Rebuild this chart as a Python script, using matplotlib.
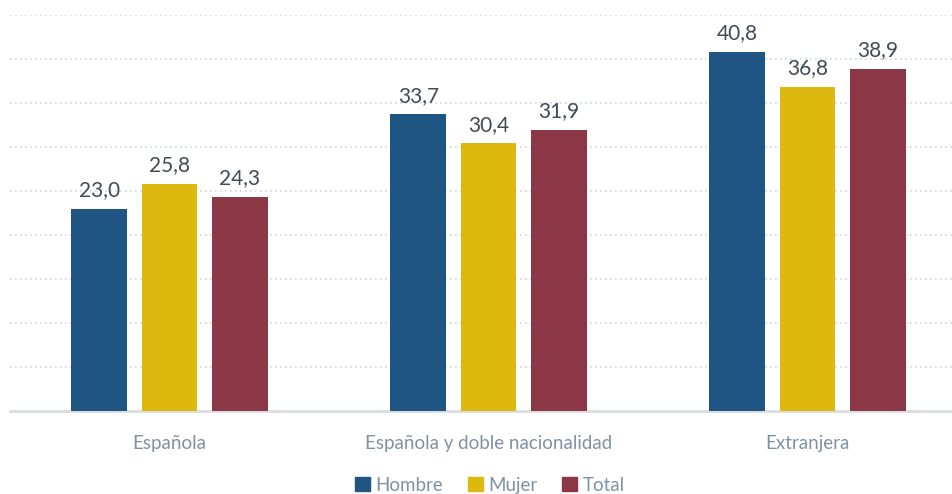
import matplotlib
matplotlib.use("Agg")
import matplotlib.pyplot as plt
from matplotlib.patches import Patch
import numpy as np

plt.rcParams['font.family'] = ['Lato', 'DejaVu Sans']

categories = ['Española', 'Española y doble nacionalidad', 'Extranjera']
series = ['Hombre', 'Mujer', 'Total']
hombre = [23.0, 33.7, 40.8]
mujer = [25.8, 30.4, 36.8]
total = [24.3, 31.9, 38.9]
colors = ['#1F5582', '#DDB90F', '#8B3745']

fig = plt.figure(figsize=(9.52, 4.94), dpi=100)
ax = fig.add_axes([10 / 952, 1 - 411 / 494, 942 / 952, (411 - 15) / 494])

x = np.arange(len(categories))
w = 0.175
step = 0.22
for i, (vals, c) in enumerate(zip([hombre, mujer, total], colors)):
    pos = x + (i - 1) * step
    ax.bar(pos, vals, width=w, color=c, zorder=3)
    for p, v in zip(pos, vals):
        ax.text(p, v + 1.0, f'{v:.1f}'.replace('.', ','), ha='center', va='bottom',
                fontsize=15, color='#404B56')

ax.set_ylim(0, 45)
ax.set_xlim(-0.5, 942 / 319 - 0.5)
ax.set_yticks(np.arange(5, 46, 5))
ax.yaxis.grid(True, linestyle=(0, (1, 2)), color='#CFD6DE', linewidth=1.2, zorder=0)
ax.tick_params(axis='y', left=False, labelleft=False)
ax.tick_params(axis='x', bottom=False, labelsize=13.5, labelcolor='#7F92A4', pad=14)
ax.set_xticks(x)
ax.set_xticklabels(categories)
for s in ['top', 'right', 'left']:
    ax.spines[s].set_visible(False)
ax.spines['bottom'].set_color('#D9DDE2')
ax.spines['bottom'].set_linewidth(2)

handles = [Patch(color=c, label=s) for s, c in zip(series, colors)]
fig.legend(handles=handles, loc='center', bbox_to_anchor=(490 / 952, 1 - 485 / 494),
           ncol=3, frameon=False, fontsize=13.5, labelcolor='#7F92A4',
           handlelength=0.8, handleheight=0.8, handletextpad=0.3, columnspacing=1.3)

fig.savefig('out.png', dpi=100)
